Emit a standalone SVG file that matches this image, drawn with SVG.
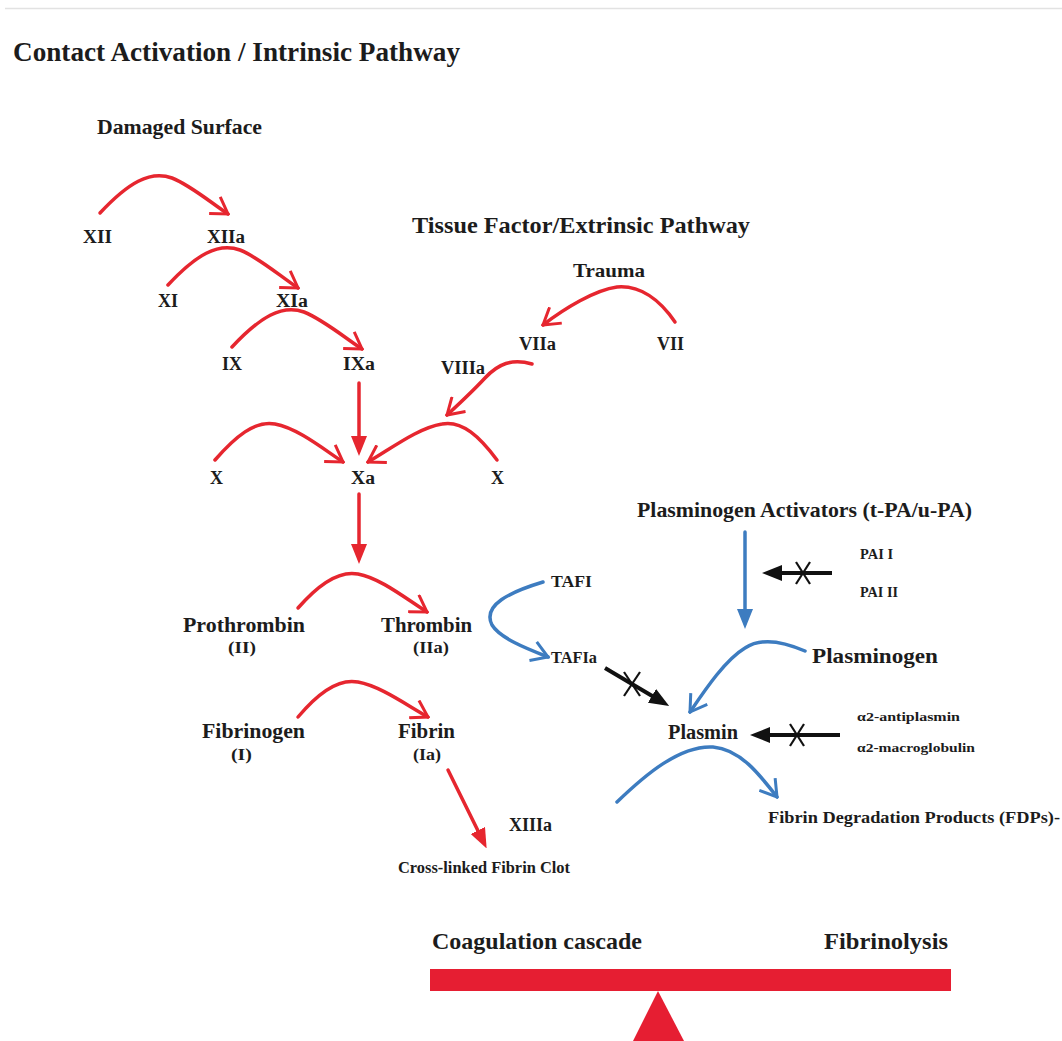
<svg xmlns="http://www.w3.org/2000/svg" width="1062" height="1041" viewBox="0 0 1062 1041">
<style>
  text { font-family: "Liberation Serif", "Times New Roman", serif; font-weight: bold; fill: #1c1c1c; }
  .red { fill: none; stroke: #e6262f; stroke-width: 3.5; stroke-linecap: round; }
  .blue { fill: none; stroke: #3d7cc0; stroke-width: 3.5; stroke-linecap: round; }
  .blk { fill: none; stroke: #111; stroke-width: 4; }
  .x { stroke: #111; stroke-width: 2.2; }
  .ro { marker-end: url(#redOpen); }
  .rf { marker-end: url(#redFill); }
  .bo { marker-end: url(#blueOpen); }
  .bf { marker-end: url(#blueFill); }
  .kf { marker-end: url(#blkFill); }
</style>
<defs>
  <marker id="redOpen" markerUnits="userSpaceOnUse" viewBox="0 0 20 22" markerWidth="20" markerHeight="22" refX="18" refY="11" orient="auto">
    <path d="M2,1 L18,11 L2,21" fill="none" stroke="#e6262f" stroke-width="3"/>
  </marker>
  <marker id="redFill" markerUnits="userSpaceOnUse" viewBox="0 0 20 16" markerWidth="20" markerHeight="16" refX="14" refY="8" orient="auto">
    <path d="M0,0 L20,8 L0,16 Z" fill="#e6262f"/>
  </marker>
  <marker id="blueOpen" markerUnits="userSpaceOnUse" viewBox="0 0 20 22" markerWidth="20" markerHeight="22" refX="18" refY="11" orient="auto">
    <path d="M2,1 L18,11 L2,21" fill="none" stroke="#3d7cc0" stroke-width="3"/>
  </marker>
  <marker id="blueFill" markerUnits="userSpaceOnUse" viewBox="0 0 20 16" markerWidth="20" markerHeight="16" refX="14" refY="8" orient="auto">
    <path d="M0,0 L20,8 L0,16 Z" fill="#3d7cc0"/>
  </marker>
  <marker id="blkFill" markerUnits="userSpaceOnUse" viewBox="0 0 20 16" markerWidth="20" markerHeight="16" refX="14" refY="8" orient="auto">
    <path d="M0,0 L20,8 L0,16 Z" fill="#111"/>
  </marker>
</defs>
<rect x="0" y="0" width="1062" height="1041" fill="#ffffff"/>
<line x1="5" y1="8.5" x2="1062" y2="8.5" stroke="#e2e2e2" stroke-width="1.5"/>

<g id="headings">
  <text x="13" y="61" font-size="27" textLength="447" lengthAdjust="spacingAndGlyphs">Contact Activation / Intrinsic Pathway</text>
  <text x="412" y="233" font-size="24" textLength="338" lengthAdjust="spacingAndGlyphs">Tissue Factor/Extrinsic Pathway</text>
</g>

<g id="connectors">
  <path class="red ro" d="M100,213 C128,183 150,170 172,178 C190,185 210,202 228,214"/>
  <path class="red ro" d="M168,285 C196,255 218,242 240,250 C258,257 280,276 298,288"/>
  <path class="red ro" d="M232,347 C260,317 282,304 304,312 C322,319 344,337 362,349"/>
  <path class="red rf" d="M359,383 L359,450"/>
  <path class="red ro" d="M675,322 C660,300 640,285 617,287 C595,290 565,308 543,325"/>
  <path class="red ro" d="M532,364 C512,358 498,364 485,378 C472,392 460,403 447,415"/>
  <path class="red ro" d="M215,460 C235,437 255,420 275,424 C297,428 322,448 343,462"/>
  <path class="red ro" d="M497,460 C480,437 462,420 442,424 C418,428 392,448 368,462"/>
  <path class="red rf" d="M359,494 L359,558"/>
  <path class="red ro" d="M298,608 C318,585 338,570 358,574 C380,578 405,598 427,612"/>
  <path class="red ro" d="M298,717 C318,693 338,678 358,682 C380,686 405,704 428,717"/>
  <path class="red rf" d="M448,770 L484,843"/>
  <path class="blue bo" d="M543,582 C510,592 482,605 492,625 C500,638 525,648 548,657"/>
  <path class="blue bf" d="M745,532 L745,623"/>
  <path class="blue bo" d="M805,651 C780,640 760,638 745,648 C725,660 705,690 690,712"/>
  <path class="blue bo" d="M617,802 C645,775 680,745 713,747 C740,749 760,775 777,797"/>
  <path class="blk kf" d="M605,668 L664,703"/>
  <line class="x" x1="624" y1="672" x2="640" y2="696"/>
  <line class="x" x1="640" y1="672" x2="624" y2="696"/>
  <path class="blk kf" d="M832,573 L768,573"/>
  <line class="x" x1="796" y1="562" x2="810" y2="584"/>
  <line class="x" x1="810" y1="562" x2="796" y2="584"/>
  <path class="blk kf" d="M840,735 L756,735"/>
  <line class="x" x1="790" y1="724" x2="804" y2="746"/>
  <line class="x" x1="804" y1="724" x2="790" y2="746"/>
</g>

<g id="n-damaged"><text x="97" y="134" font-size="22" textLength="165" lengthAdjust="spacingAndGlyphs">Damaged Surface</text></g>
<g id="n-XII"><text x="83" y="243" font-size="18" textLength="29" lengthAdjust="spacingAndGlyphs">XII</text></g>
<g id="n-XIIa"><text x="207" y="243" font-size="18" textLength="38" lengthAdjust="spacingAndGlyphs">XIIa</text></g>
<g id="n-XI"><text x="158" y="307" font-size="18" textLength="20" lengthAdjust="spacingAndGlyphs">XI</text></g>
<g id="n-XIa"><text x="276" y="307" font-size="18" textLength="32" lengthAdjust="spacingAndGlyphs">XIa</text></g>
<g id="n-IX"><text x="222" y="370" font-size="18" textLength="20" lengthAdjust="spacingAndGlyphs">IX</text></g>
<g id="n-IXa"><text x="343" y="370" font-size="18" textLength="32" lengthAdjust="spacingAndGlyphs">IXa</text></g>
<g id="n-trauma"><text x="573" y="277" font-size="19" textLength="72" lengthAdjust="spacingAndGlyphs">Trauma</text></g>
<g id="n-VIIa"><text x="519" y="350" font-size="18" textLength="37" lengthAdjust="spacingAndGlyphs">VIIa</text></g>
<g id="n-VII"><text x="657" y="350" font-size="18" textLength="27" lengthAdjust="spacingAndGlyphs">VII</text></g>
<g id="n-VIIIa"><text x="441" y="374" font-size="18" textLength="44" lengthAdjust="spacingAndGlyphs">VIIIa</text></g>
<g id="n-X1"><text x="210" y="484" font-size="18" textLength="13" lengthAdjust="spacingAndGlyphs">X</text></g>
<g id="n-Xa"><text x="351" y="484" font-size="18" textLength="24" lengthAdjust="spacingAndGlyphs">Xa</text></g>
<g id="n-X2"><text x="491" y="484" font-size="18" textLength="13" lengthAdjust="spacingAndGlyphs">X</text></g>
<g id="n-prothrombin">
  <text x="183" y="632" font-size="20" textLength="122" lengthAdjust="spacingAndGlyphs">Prothrombin</text>
  <text x="228" y="653" font-size="17" textLength="28" lengthAdjust="spacingAndGlyphs">(II)</text>
</g>
<g id="n-thrombin">
  <text x="381" y="632" font-size="20" textLength="91" lengthAdjust="spacingAndGlyphs">Thrombin</text>
  <text x="413" y="653" font-size="17" textLength="36" lengthAdjust="spacingAndGlyphs">(IIa)</text>
</g>
<g id="n-fibrinogen">
  <text x="202" y="738" font-size="20" textLength="103" lengthAdjust="spacingAndGlyphs">Fibrinogen</text>
  <text x="231" y="760" font-size="17" textLength="21" lengthAdjust="spacingAndGlyphs">(I)</text>
</g>
<g id="n-fibrin">
  <text x="398" y="738" font-size="20" textLength="57" lengthAdjust="spacingAndGlyphs">Fibrin</text>
  <text x="413" y="760" font-size="17" textLength="28" lengthAdjust="spacingAndGlyphs">(Ia)</text>
</g>
<g id="n-TAFI"><text x="551" y="587" font-size="16" textLength="41" lengthAdjust="spacingAndGlyphs">TAFI</text></g>
<g id="n-TAFIa"><text x="551" y="663" font-size="16" textLength="46" lengthAdjust="spacingAndGlyphs">TAFIa</text></g>
<g id="n-PA"><text x="637" y="517" font-size="21" textLength="335" lengthAdjust="spacingAndGlyphs">Plasminogen Activators (t-PA/u-PA)</text></g>
<g id="n-PAI">
  <text x="860" y="559" font-size="15" textLength="33" lengthAdjust="spacingAndGlyphs">PAI I</text>
  <text x="860" y="597" font-size="15" textLength="38" lengthAdjust="spacingAndGlyphs">PAI II</text>
</g>
<g id="n-plasminogen"><text x="812" y="663" font-size="20" textLength="126" lengthAdjust="spacingAndGlyphs">Plasminogen</text></g>
<g id="n-plasmin"><text x="668" y="739" font-size="20" textLength="70" lengthAdjust="spacingAndGlyphs">Plasmin</text></g>
<g id="n-inhibitors">
  <text x="857" y="721" font-size="13" textLength="103" lengthAdjust="spacingAndGlyphs">α2-antiplasmin</text>
  <text x="857" y="752" font-size="13" textLength="118" lengthAdjust="spacingAndGlyphs">α2-macroglobulin</text>
</g>
<g id="n-XIIIa"><text x="509" y="831" font-size="18" textLength="43" lengthAdjust="spacingAndGlyphs">XIIIa</text></g>
<g id="n-clot"><text x="398" y="873" font-size="17" textLength="172" lengthAdjust="spacingAndGlyphs">Cross-linked Fibrin Clot</text></g>
<g id="n-FDP"><text x="768" y="823" font-size="17" textLength="292" lengthAdjust="spacingAndGlyphs">Fibrin Degradation Products (FDPs)-</text></g>

<g id="balance">
  <text x="432" y="949" font-size="24" textLength="210" lengthAdjust="spacingAndGlyphs">Coagulation cascade</text>
  <text x="824" y="949" font-size="24" textLength="124" lengthAdjust="spacingAndGlyphs">Fibrinolysis</text>
  <rect x="430" y="969" width="521" height="22" fill="#e61e32"/>
  <polygon points="658,991 633,1041 684,1041" fill="#e61e32"/>
</g>
</svg>
